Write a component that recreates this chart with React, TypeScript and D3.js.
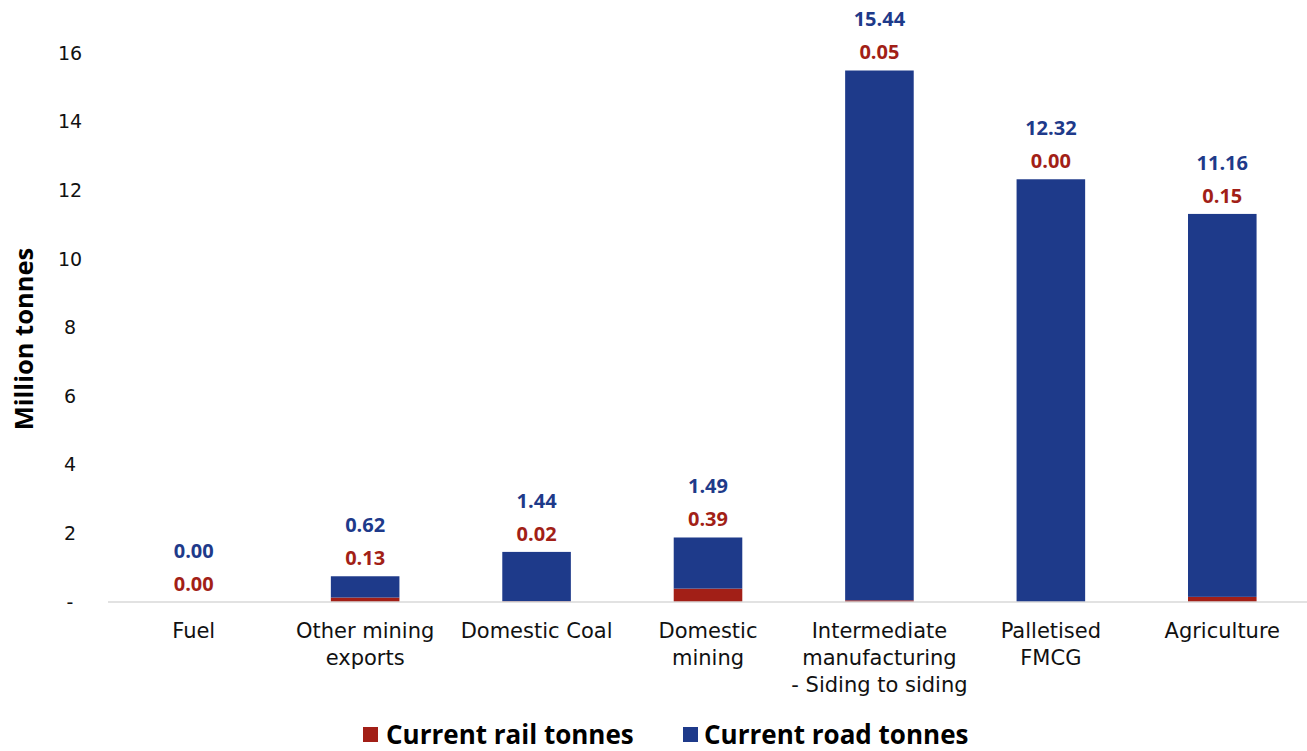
import React from "react";
import * as d3 from "d3";

const categories = [
  ["Fuel"],
  ["Other mining", "exports"],
  ["Domestic Coal"],
  ["Domestic", "mining"],
  ["Intermediate", "manufacturing", "- Siding to siding"],
  ["Palletised", "FMCG"],
  ["Agriculture"],
];
const railTonnes = [0.0, 0.13, 0.02, 0.39, 0.05, 0.0, 0.15];
const roadTonnes = [0.0, 0.62, 1.44, 1.49, 15.44, 12.32, 11.16];
const yTicks = [0, 2, 4, 6, 8, 10, 12, 14, 16];
const seriesNames = ["Current rail tonnes", "Current road tonnes"];

const RED = "#A21F17";
const BLUE = "#1E3A8A";
const FONT = "'Century Gothic', 'DejaVu Sans', sans-serif";
const BOLD = "'Open Sans', 'DejaVu Sans', sans-serif";

export default function App() {
  const W = 1307, H = 751;
  const x = d3.scaleBand<number>().domain(d3.range(categories.length)).range([108, 1308]).paddingInner(0.6).paddingOuter(0.3);
  const y = d3.scaleLinear().domain([0, 16]).range([602, 53]);
  const bw = x.bandwidth();

  return (
    <svg width={W} height={H} style={{ position: "absolute", left: 0, top: 0, background: "#fff" }}>
      {yTicks.map((t) => (
        <text key={t} x={70} y={y(t)} dy="0.35em" textAnchor="middle" fontFamily={FONT} fontSize={19} fill="#111">
          {t === 0 ? "-" : t}
        </text>
      ))}
      <text transform={`translate(24,339) rotate(-90)`} textAnchor="middle" dy="0.35em" fontFamily={BOLD} fontWeight="bold" fontSize={25.5} fill="#000">
        Million tonnes
      </text>
      {categories.map((c, i) => {
        const x0 = x(i)!;
        const cx = x0 + bw / 2;
        const top = y(railTonnes[i] + roadTonnes[i]);
        return (
          <g key={i}>
            {railTonnes[i] > 0 && (
              <rect x={x0} width={bw} y={y(railTonnes[i])} height={y(0) - y(railTonnes[i])} fill={RED} />
            )}
            {roadTonnes[i] > 0 && (
              <rect x={x0} width={bw} y={top} height={y(railTonnes[i]) - top} fill={BLUE} />
            )}
            <text x={cx} y={top - 18} dy="0.35em" textAnchor="middle" fontFamily={BOLD} fontWeight="bold" fontSize={20} fill={RED}>
              {railTonnes[i].toFixed(2)}
            </text>
            <text x={cx} y={top - 51} dy="0.35em" textAnchor="middle" fontFamily={BOLD} fontWeight="bold" fontSize={20} fill={BLUE}>
              {roadTonnes[i].toFixed(2)}
            </text>
            {c.map((line, j) => (
              <text key={j} x={cx} y={631 + j * 27} dy="0.35em" textAnchor="middle" fontFamily={FONT} fontSize={21} fill="#111">
                {line}
              </text>
            ))}
          </g>
        );
      })}
      <line x1={108} x2={1307} y1={y(0)} y2={y(0)} stroke="#d9d9d9" strokeWidth={1.5} />
      <rect x={363} y={727} width={15} height={15} fill={RED} />
      <text x={386} y={735} dy="0.35em" fontFamily={BOLD} fontWeight="bold" fontSize={26} fill="#000">{seriesNames[0]}</text>
      <rect x={683} y={727} width={15} height={15} fill={BLUE} />
      <text x={704} y={735} dy="0.35em" fontFamily={BOLD} fontWeight="bold" fontSize={26} fill="#000">{seriesNames[1]}</text>
    </svg>
  );
}
